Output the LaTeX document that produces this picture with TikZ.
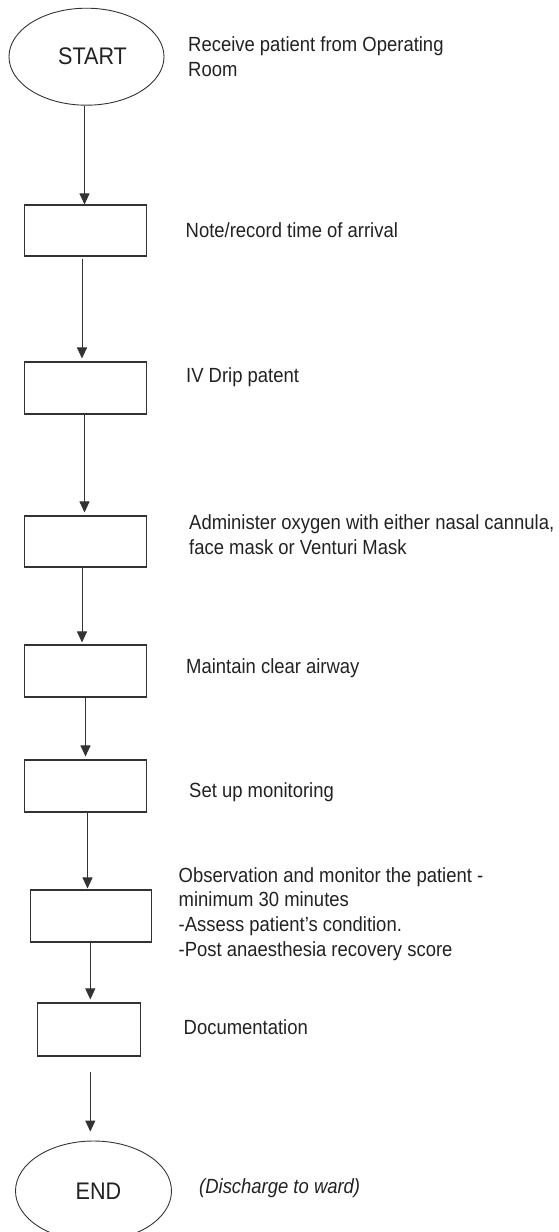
\documentclass[tikz,border=0pt]{standalone}
\usepackage{fontspec}
\setmainfont[FakeStretch=0.9]{Liberation Sans}
\usetikzlibrary{shapes.geometric,arrows.meta}
\definecolor{ink}{HTML}{222222}
\definecolor{edge}{HTML}{333333}
\begin{document}
\begin{tikzpicture}[x=1pt,y=-1pt,
  stepbox/.style={draw=edge, line width=1.1pt, minimum width=122pt,
    minimum height=52pt, inner sep=0pt},
  terminal/.style={ellipse, draw=edge, line width=0.9pt, inner sep=0pt},
  termtext/.style={text=ink, font=\fontsize{24}{28}\selectfont},
  note/.style={anchor=west, inner sep=0pt, align=left, text=ink,
    font=\fontsize{20.5}{24.8}\selectfont},
  arr/.style={draw=edge, line width=1pt, -{Triangle[length=11pt,width=10pt]}}
]
\useasboundingbox (0,0) rectangle (558,1232);

% terminals and process boxes
\node[terminal, minimum width=155pt, minimum height=97pt,
  label={[termtext, xshift=6pt]center:START}] (start) at (86.5,56.7) {};
\node[stepbox, minimum height=51pt] (b1) at (85.5,230.5) {};
\node[stepbox] (b2) at (85.5,388) {};
\node[stepbox, minimum height=51pt] (b3) at (85.5,541.5) {};
\node[stepbox] (b4) at (85.5,671) {};
\node[stepbox] (b5) at (85.5,786) {};
\node[stepbox, minimum width=121.6pt] (b6) at (91,916) {};
\node[stepbox, minimum width=103.3pt, minimum height=53pt] (b7) at (88.7,1029.5) {};
\node[terminal, minimum width=156pt, minimum height=100pt,
  label={[termtext, xshift=5pt]center:END}] (end) at (93.5,1191) {};

% descriptions beside the boxes
\node[note] (t0) at (188,57) {Receive patient from Operating\\Room};
\node[note] (t1) at (185.5,230) {Note/record time of arrival};
\node[note] (t2) at (186,377) {IV Drip patent};
\node[note] (t3) at (189,535) {Administer oxygen with either nasal cannula,\\face mask or Venturi Mask};
\node[note] (t4) at (186,668) {Maintain clear airway};
\node[note] (t5) at (189,792) {Set up monitoring};
\node[note] (t6) at (178.5,914) {Observation and monitor the patient -\\minimum 30 minutes\\-Assess patient’s condition.\\-Post anaesthesia recovery score};
\node[note] (t7) at (183.5,1027) {Documentation};
\node[note, font=\fontsize{20.5}{24.8}\selectfont\itshape] (t8) at (199,1188) {(Discharge to ward)};

% flow arrows
\draw[arr] ([xshift=-1pt]b1.north |- start.south) -- ([xshift=-1pt]b1.north);
\draw[arr, shorten <=2pt, shorten >=3pt] ([xshift=-3.5pt]b1.south) -- ([xshift=-3.5pt]b2.north);
\draw[arr, shorten >=3pt] ([xshift=-1pt]b2.south) -- ([xshift=-1pt]b3.north);
\draw[arr, shorten >=2pt] ([xshift=-3.5pt]b3.south) -- ([xshift=-3.5pt]b4.north);
\draw[arr, shorten >=3pt] (b4.south) -- (b5.north);
\draw[arr, shorten >=1pt] ([xshift=2pt]b5.south) -- ([xshift=2pt]b5.south |- b6.north);
\draw[arr, shorten >=3pt] ([xshift=-0.7pt]b6.south) -- ([xshift=-0.7pt]b6.south |- b7.north);
\draw[arr, shorten <=15pt, shorten >=9pt] ([xshift=1.6pt]b7.south) -- ([xshift=1.6pt]b7.south |- end.north);
\end{tikzpicture}
\end{document}
